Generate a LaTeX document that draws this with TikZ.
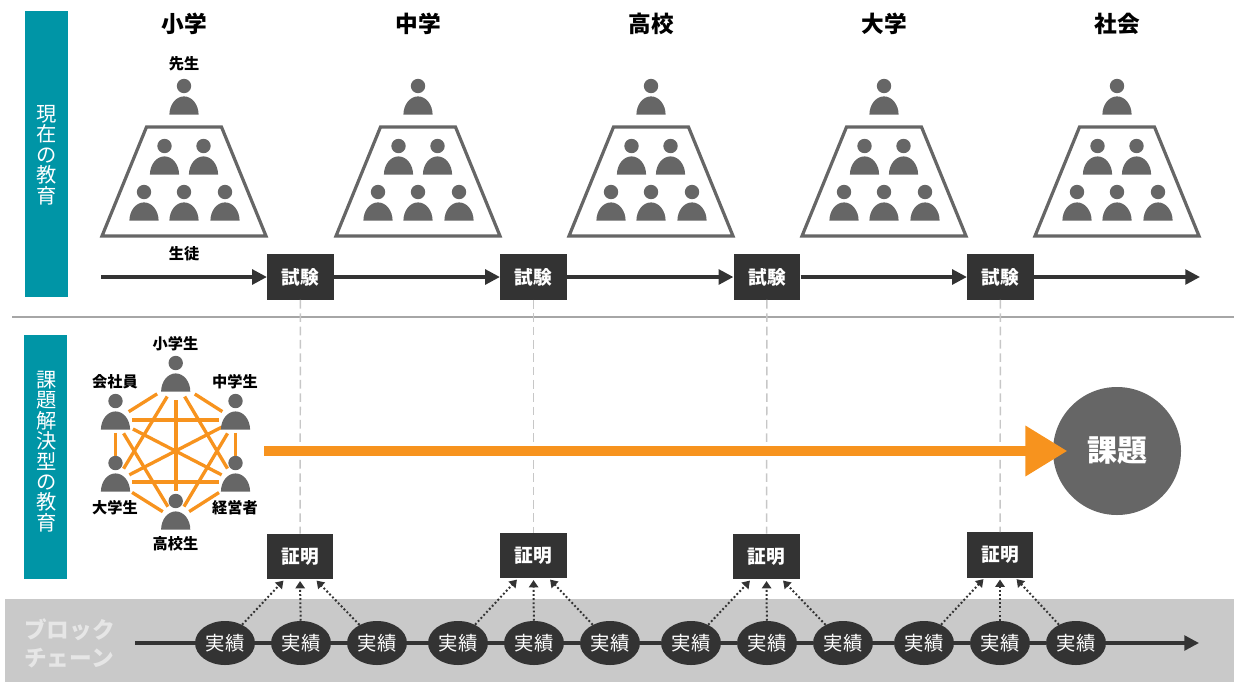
\documentclass[tikz,border=0pt]{standalone}
\usepackage{fontspec}
\usepackage{tikz}
\usetikzlibrary{arrows.meta}
\usetikzlibrary{shapes.geometric}
\setmainfont{Noto Sans CJK JP}
\definecolor{tealbar}{HTML}{0095A6}
\definecolor{darkbox}{HTML}{333333}
\definecolor{persongray}{HTML}{666666}
\definecolor{bandgray}{HTML}{C9C9C9}
\definecolor{bandtext}{HTML}{E6E6E6}
\definecolor{linkorange}{HTML}{F7931E}
\tikzset{
	person/.pic={
		\fill[persongray] (0,0)circle(7.2);
		\fill[persongray] (-14.6,28.7)arc[start angle=180,end angle=360,x radius=14.6,y radius=18.3]--cycle;
	},
	headlabel/.style={font=\fontsize{17}{18}\selectfont\bfseries,text=black},
	smalllabel/.style={font=\fontsize{11.4}{12}\selectfont\bfseries,text=black},
	barlabel/.style={font=\fontsize{15.2}{15.3}\selectfont,text=white,align=center},
	boxnode/.style={fill=darkbox,text=white,font=\fontsize{14}{15}\selectfont\bfseries,minimum width=50pt,minimum height=34pt,inner sep=0pt},
	recordnode/.style={ellipse,fill=darkbox,text=white,font=\fontsize{14.5}{15}\selectfont,minimum width=45pt,minimum height=33pt,inner sep=0pt},
	hexnode/.style={circle,minimum size=23pt,inner sep=0pt},
	link/.style={linkorange,line width=2.5pt},
	flowline/.style={darkbox,line width=2.5pt},
	proofarrow/.style={darkbox,line width=1.5pt,dash pattern=on 1.4pt off 1.7pt,-{Triangle[length=5.5pt,width=7pt,sep=1.2pt]}},
}
\begin{document}
\begin{tikzpicture}[x=0.75pt,y=-0.75pt,>={Triangle[length=11pt,width=11pt]}]
	\useasboundingbox (0,0) rectangle (1234,682);
	\fill[bandgray] (5,599) rectangle (1234,682);
	\fill[tealbar] (25,11) rectangle (68,297);
	\fill[tealbar] (24,335) rectangle (67,579);
	\draw[black!35,line width=0.8pt] (12,317)--(1234,317);
	\node[barlabel] (nowbar) at (46.5,155) {現\\在\\の\\教\\育};
	\node[barlabel] (issuebar) at (47,451.5) {課\\題\\解\\決\\型\\の\\教\\育};
	\foreach \x/\name in {184/小学,418/中学,651/高校,884/大学,1117/社会}{
		\node[headlabel] (head\x) at (\x,24) {\name};
		\begin{scope}[shift={(\x,0)}]
			\pic at (0,86) {person};
			\draw[persongray,line width=2.4pt,line join=miter] (-37.5,127)--(37.5,127)--(82,236)--(-82,236)--cycle;
			\pic at (-19.5,146) {person};
			\pic at (19.5,146) {person};
			\pic at (-40,192) {person};
			\pic at (0,192) {person};
			\pic at (41,192) {person};
		\end{scope}
	}
	\node[smalllabel] (teacher) at (184,63.5) {先生};
	\node[smalllabel] (pupil) at (184,254) {生徒};
	\foreach \n/\x in {1/300.5,2/533.5,3/767,4/1000.5}{
		\node[boxnode] (exam\n) at (\x,277) {試験};
	}
	\foreach \n/\x/\y in {1/300/556.5,2/533.5/555.5,3/766.5/556.5,4/1000/555}{
		\node[boxnode] (proof\n) at (\x,\y) {証明};
		\draw[black!22,line width=1.1pt,dash pattern=on 6.5pt off 3.5pt] (exam\n)--(proof\n);
	}
	\coordinate (flowstart) at (101,277);
	\coordinate (flowend) at (1200,277);
	\draw[flowline,->] (flowstart)--(exam1);
	\draw[flowline,->] (exam1)--(exam2);
	\draw[flowline,->] (exam2)--(exam3);
	\draw[flowline,->] (exam3)--(exam4);
	\draw[flowline,->] (exam4)--(flowend);
	\node[hexnode] (top) at (176,382) {};
	\node[hexnode] (upleft) at (115.5,420) {};
	\node[hexnode] (upright) at (235.5,420) {};
	\node[hexnode] (lowleft) at (115.5,482) {};
	\node[hexnode] (lowright) at (235.5,482) {};
	\node[hexnode] (bottom) at (176,520) {};
	\draw[link,shorten <=5pt] (top)--(upleft);
	\draw[link,shorten <=5pt] (top)--(upright);
	\draw[link,shorten >=10pt,shorten <=2pt] (top)--(bottom);
	\draw[link,shorten <=1pt] (top)--(lowleft);
	\draw[link,shorten <=1pt] (top)--(lowright);
	\draw[link,shorten <=1pt,shorten >=1pt] (upleft)--(upright);
	\draw[link,shorten <=1pt,shorten >=1pt] (lowleft)--(lowright);
	\draw[link,shorten <=-2pt,shorten >=-2pt] (upleft)--(lowleft);
	\draw[link,shorten <=-2pt,shorten >=-2pt] (upright)--(lowright);
	\draw[link,shorten <=3pt] (upleft)--(lowright);
	\draw[link] (lowleft)--(upright);
	\draw[link] (upleft)--(bottom);
	\draw[link] (upright)--(bottom);
	\draw[link,shorten <=3pt] (lowleft)--(bottom);
	\draw[link,shorten <=3pt] (lowright)--(bottom);
	\pic at (175.7,363) {person};
	\pic at (115.5,401) {person};
	\pic at (235.5,401) {person};
	\pic at (115.5,463) {person};
	\pic at (235.5,463) {person};
	\pic at (175.7,501) {person};
	\node[smalllabel] (pupila) at (175.5,344) {小学生};
	\node[smalllabel] (pupilb) at (235,382) {中学生};
	\node[smalllabel] (worker) at (115,382) {会社員};
	\node[smalllabel] (pupilc) at (115,508) {大学生};
	\node[smalllabel] (manager) at (235,508) {経営者};
	\node[smalllabel] (pupild) at (175.5,544) {高校生};
	\node[circle,fill=persongray,text=white,minimum size=96pt,inner sep=0pt,font=\fontsize{22.5}{24}\selectfont\bfseries] (issue) at (1117,451) {課題};
	\coordinate (issuestart) at (264,451);
	\draw[linkorange,line width=7.5pt,-{Triangle[length=31.5pt,width=36pt]},shorten >=-11pt] (issuestart)--(issue);
	\node[font=\fontsize{17}{21}\selectfont\bfseries,text=bandtext,align=left] (chainname) at (69.5,643) {ブロック\\チェーン};
	\foreach \n/\x in {1/225,2/301,3/377,4/458,5/534,6/610,7/691,8/767,9/843,10/924,11/1000,12/1076}{
		\node[recordnode] (rec\n) at (\x,643) {実績};
	}
	\coordinate (chainstart) at (135,643);
	\coordinate (chainend) at (1199,643);
	\draw[flowline] (chainstart)--(rec1);
	\foreach \a/\b in {1/2,2/3,3/4,4/5,5/6,6/7,7/8,8/9,9/10,10/11,11/12}{
		\draw[flowline] (rec\a)--(rec\b);
	}
	\draw[flowline,->] (rec12)--(chainend);
	\foreach \n/\a/\b/\c in {1/1/2/3,2/4/5/6,3/7/8/9,4/10/11/12}{
		\draw[proofarrow] (rec\a)--(proof\n.236);
		\draw[proofarrow] (rec\b)--(proof\n.south);
		\draw[proofarrow] (rec\c)--(proof\n.304);
	}
\end{tikzpicture}
\end{document}
